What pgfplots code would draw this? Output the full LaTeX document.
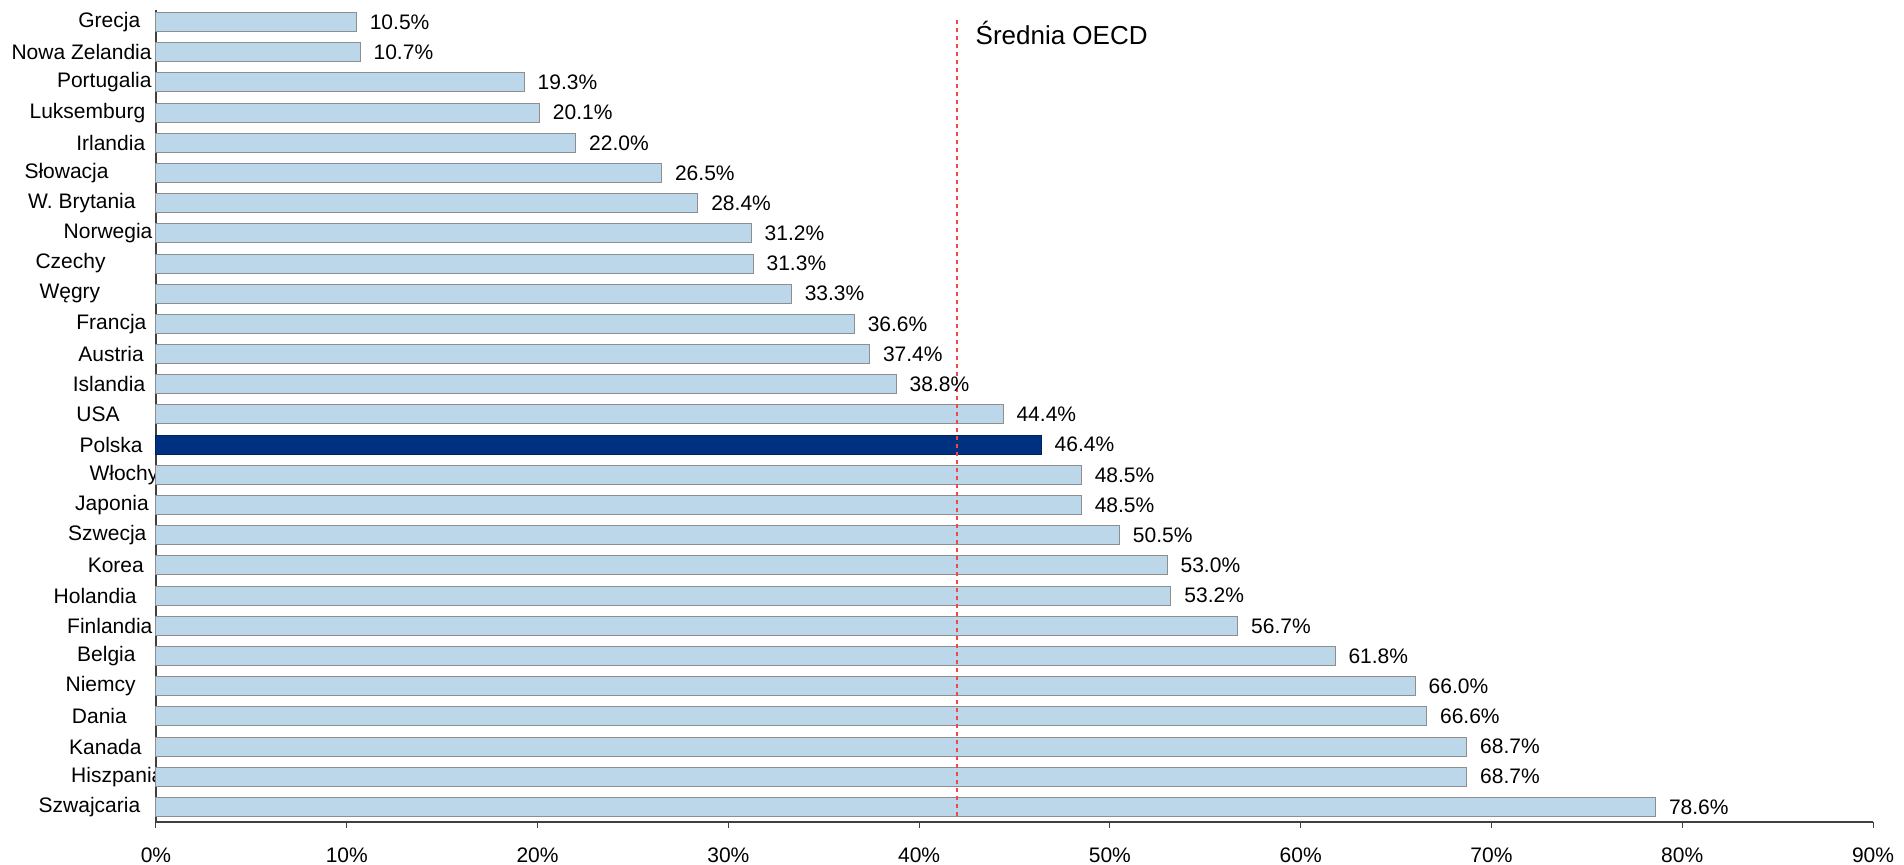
\documentclass[border=0pt]{standalone}
\usepackage{pgfplots}
\pgfplotsset{compat=1.18}
\usepackage{fontspec}
\setmainfont{Liberation Sans}
\definecolor{barfill}{HTML}{BDD7EA}
\definecolor{baredge}{HTML}{8E8E8E}
\definecolor{polska}{HTML}{003080}
\definecolor{avgline}{HTML}{F04848}
\newcommand{\yl}[2]{#2\hspace*{#1pt}}
\begin{document}
\fontsize{10.5pt}{12pt}\selectfont
\begin{tikzpicture}[x=1pt,y=1pt]
\useasboundingbox (-78,-21) rectangle (874,411);
\begin{axis}[
  at={(0,0)}, anchor=south west,
  scale only axis, width=858.5pt, height=406pt,
  xmin=0, xmax=90, ymin=-0.5, ymax=26.4,
  axis lines*=left,
  axis line style={black!75, line width=0.6pt},
  bar width=9.5pt,
  xtick={0,10,...,90},
  xticklabel={\pgfmathprintnumber[assume math mode=true]{\tick}\%},
  tick align=outside,
  major tick length=3pt,
  xtick style={black!75, line width=0.5pt},
  xticklabel style={font=\fontsize{10.5pt}{12pt}\selectfont, yshift=-6pt},
  ytick={0,...,26},
  ytick style={draw=none},
  yticklabel style={font=\fontsize{10.5pt}{12pt}\selectfont, anchor=east, inner sep=0pt, xshift=2pt},
  yticklabels={
    {\yl{6.7}{Szwajcaria}}, {\yl{-4.9}{Hiszpania}}, {\yl{6}{Kanada}},
    {\yl{13.4}{Dania}}, {\yl{9}{Niemcy}}, {\yl{9}{Belgia}},
    {\yl{0.6}{Finlandia}}, {\yl{8.5}{Holandia}}, {\yl{4.9}{Korea}},
    {\yl{3.6}{Szwecja}}, {\yl{2.4}{Japonia}}, {\yl{-2.4}{Włochy}},
    {\yl{5.5}{Polska}}, {\yl{17}{USA}}, {\yl{4.2}{Islandia}},
    {\yl{4.9}{Austria}}, {\yl{3.6}{Francja}}, {\yl{26.7}{Węgry}},
    {\yl{24}{Czechy}}, {\yl{0.6}{Norwegia}}, {\yl{9}{W. Brytania}},
    {\yl{22.5}{Słowacja}}, {\yl{4.2}{Irlandia}}, {\yl{4.2}{Luksemburg}},
    {\yl{1}{Portugalia}}, {\yl{1}{Nowa Zelandia}}, {\yl{6.7}{Grecja}}
  },
  clip=false,
]
% countries other than Poland
\addplot[xbar, bar shift=0pt, fill=barfill, draw=baredge, line width=0.5pt,
  point meta=x,
  nodes near coords={\pgfmathprintnumber[fixed,fixed zerofill,precision=1,assume math mode=true]{\pgfplotspointmeta}\%},
  every node near coord/.append style={anchor=west, inner sep=0pt, xshift=6.5pt, text=black, font=\fontsize{10.5pt}{12pt}\selectfont}]
coordinates {
  (78.6,0) (68.7,1) (68.7,2) (66.6,3) (66.0,4) (61.8,5) (56.7,6)
  (53.2,7) (53.0,8) (50.5,9) (48.5,10) (48.5,11) (44.4,13)
  (38.8,14) (37.4,15) (36.6,16) (33.3,17) (31.3,18) (31.2,19)
  (28.4,20) (26.5,21) (22.0,22) (20.1,23) (19.3,24) (10.7,25) (10.5,26)
};
% Poland highlighted
\addplot[xbar, bar shift=0pt, fill=polska, draw=polska!70!black, line width=0.5pt,
  point meta=x,
  nodes near coords={\pgfmathprintnumber[fixed,fixed zerofill,precision=1,assume math mode=true]{\pgfplotspointmeta}\%},
  every node near coord/.append style={anchor=west, inner sep=0pt, xshift=6.5pt, text=black, font=\fontsize{10.5pt}{12pt}\selectfont}]
coordinates {(46.4,12)};
% OECD average
\addplot[sharp plot, no marks, avgline, line width=0.8pt, dash pattern=on 2pt off 2pt]
coordinates {(42,-0.31) (42,26.09)};
\node[anchor=west, inner sep=0pt, xshift=9pt, font=\fontsize{13pt}{15pt}\selectfont]
  at (axis cs:42,25.64) {Średnia OECD};
\end{axis}
\end{tikzpicture}
\end{document}
